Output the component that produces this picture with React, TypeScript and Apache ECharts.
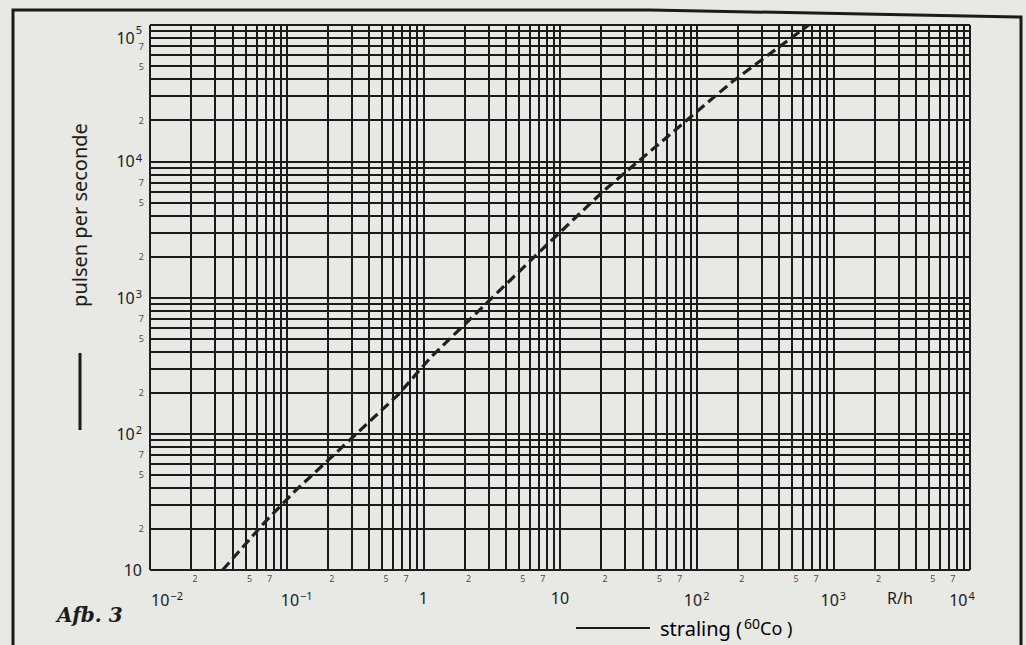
import React, { useEffect, useRef } from "react";
import * as echarts from "echarts";

// ---- data ----
const xDecades = [0.01, 0.1, 1, 10, 100, 1000];
const yDecades = [10, 100, 1000, 10000];
const gridMultipliers = [1, 2, 3, 4, 5, 6, 7, 8, 9];
const minorLabelMultipliers = [2, 5, 7];
const xMax = 10000;
const yMax = 100000;

// calibration curve (R/h -> pulsen per seconde)
const curveX = [0.034, 0.068, 0.112, 0.65, 1.14, 7.3, 21, 181, 660];
const curveY = [10, 22, 37, 192, 366, 2230, 6100, 38200, 100000];

const FONT = "Noto Sans";
const INK = "#1b1b1b";
const PAPER = "#e8e8e5";

function supLabel(v: number): string {
  const e = Math.round(Math.log10(v));
  if (e === 0) return "{b|1}";
  if (e === 1) return "{b|10}";
  return "{b|10}{s|" + (e < 0 ? "\u2212" + Math.abs(e) : String(e)) + "}";
}

export default function App() {
  const ref = useRef<HTMLDivElement>(null);
  useEffect(() => {
    document.body.style.margin = "0";
    if (!ref.current) return;
    const chart = echarts.init(ref.current, null, { renderer: "svg" });

    const xLines: number[] = [];
    xDecades.forEach((d) => gridMultipliers.forEach((m) => xLines.push(d * m)));
    xLines.push(xMax);
    const yLines: number[] = [];
    yDecades.forEach((d) => gridMultipliers.forEach((m) => yLines.push(d * m)));
    yLines.push(yMax);

    const xMinor: any[] = [];
    xDecades.forEach((d) =>
      minorLabelMultipliers.forEach((m) => xMinor.push({ value: [d * m, yDecades[0]], m }))
    );
    const yMinor: any[] = [];
    yDecades.forEach((d) =>
      minorLabelMultipliers.forEach((m) => yMinor.push({ value: [xDecades[0], d * m], m }))
    );

    const rich = {
      b: { fontSize: 16, fontFamily: FONT, color: INK },
      s: { fontSize: 11, fontFamily: FONT, color: INK, padding: [0, 0, 8, 1] },
    };

    const option: any = {
      animation: false,
      backgroundColor: PAPER,
      grid: { left: 150, right: 56, top: 25, bottom: 75, containLabel: false },
      xAxis: {
        type: "log",
        logBase: 10,
        min: xDecades[0],
        max: xMax,
        axisLine: { show: false },
        axisTick: { show: false },
        splitLine: { show: false },
        axisLabel: {
          margin: 20,
          formatter: (v: number) => {
            const e = Math.round(Math.log10(v));
            let s = supLabel(v);
            if (e === -2) s = "{padL|}" + s;
            if (e === -1) s = "{padM|}" + s;
            if (e === 4) s = s + "{padR|}";
            return s;
          },
          rich: {
            ...rich,
            padL: { width: 34 },
            padM: { width: 20 },
            padR: { width: 16 },
          },
        },
      },
      yAxis: {
        type: "log",
        logBase: 10,
        min: yDecades[0],
        max: yMax,
        axisLine: { show: false },
        axisTick: { show: false },
        splitLine: { show: false },
        axisLabel: {
          margin: 8,
          formatter: (v: number) => {
            const e = Math.round(Math.log10(v));
            if (e === 5) return "{t|10}{ts|5}";
            return supLabel(v);
          },
          rich: {
            ...rich,
            t: { fontSize: 16, fontFamily: FONT, color: INK, padding: [26, 0, 0, 0] },
            ts: { fontSize: 11, fontFamily: FONT, color: INK, padding: [0, 0, -8, 1] },
          },
        },
      },
      series: [
        {
          type: "line",
          data: [],
          silent: true,
          markLine: {
            silent: true,
            symbol: ["none", "none"],
            animation: false,
            label: { show: false },
            lineStyle: { color: INK, width: 2, type: "solid" },
            emphasis: { disabled: true },
            data: [
              ...xLines.map((v) => ({ xAxis: v })),
              ...yLines.map((v) => ({ yAxis: v })),
            ],
          },
        },
        {
          type: "line",
          data: curveX.map((x, i) => [x, curveY[i]]),
          symbol: "none",
          z: 5,
          lineStyle: { color: "#202020", width: 3.2, type: [10, 5] },
        },
        {
          type: "scatter",
          data: xMinor,
          symbolSize: 0,
          silent: true,
          label: {
            show: true,
            position: "bottom",
            distance: 4,
            offset: [4, 0],
            fontSize: 9,
            fontFamily: FONT,
            color: INK,
            formatter: (p: any) => String(p.data.m),
          },
        },
        {
          type: "scatter",
          data: yMinor,
          symbolSize: 0,
          silent: true,
          label: {
            show: true,
            position: "left",
            distance: 6,
            fontSize: 9,
            fontFamily: FONT,
            color: INK,
            formatter: (p: any) => String(p.data.m),
          },
        },
      ],
      graphic: [
        {
          type: "polyline",
          shape: { points: [[13, 645], [13, 10], [650, 10], [1021, 17], [1021, 645]] },
          style: { stroke: INK, lineWidth: 3, fill: null },
        },
        {
          type: "text",
          x: 79,
          y: 215,
          rotation: Math.PI / 2,
          style: {
            text: "pulsen per seconde",
            fontSize: 20,
            fontFamily: FONT,
            fill: INK,
            textAlign: "center",
            textVerticalAlign: "middle",
          },
        },
        {
          type: "line",
          shape: { x1: 80, y1: 353, x2: 80, y2: 430 },
          style: { stroke: INK, lineWidth: 3 },
        },
        {
          type: "text",
          x: 900,
          y: 598,
          style: {
            text: "R/h",
            fontSize: 16,
            fontFamily: FONT,
            fill: INK,
            textAlign: "center",
            textVerticalAlign: "middle",
          },
        },
        {
          type: "line",
          shape: { x1: 576, y1: 628, x2: 650, y2: 628 },
          style: { stroke: INK, lineWidth: 2 },
        },
        {
          type: "text",
          x: 660,
          y: 628,
          style: {
            text: "{a|straling (}{s|60}{c|Co )}",
            textVerticalAlign: "middle",
            rich: {
              a: { fontSize: 20, fontFamily: FONT, color: INK },
              s: { fontSize: 14, fontFamily: FONT, color: INK, padding: [0, 0, 10, 2] },
              c: { fontSize: 18, fontFamily: FONT, color: INK },
            },
          },
        },
        {
          type: "text",
          x: 57,
          y: 615,
          style: {
            text: "Afb. 3",
            fontSize: 20,
            fontWeight: "bold",
            fontStyle: "italic",
            fontFamily: "DejaVu Serif",
            fill: INK,
            textVerticalAlign: "middle",
          },
        },
      ],
    };
    chart.setOption(option);
    return () => chart.dispose();
  }, []);
  return <div ref={ref} style={{ width: 1026, height: 645 }} />;
}
